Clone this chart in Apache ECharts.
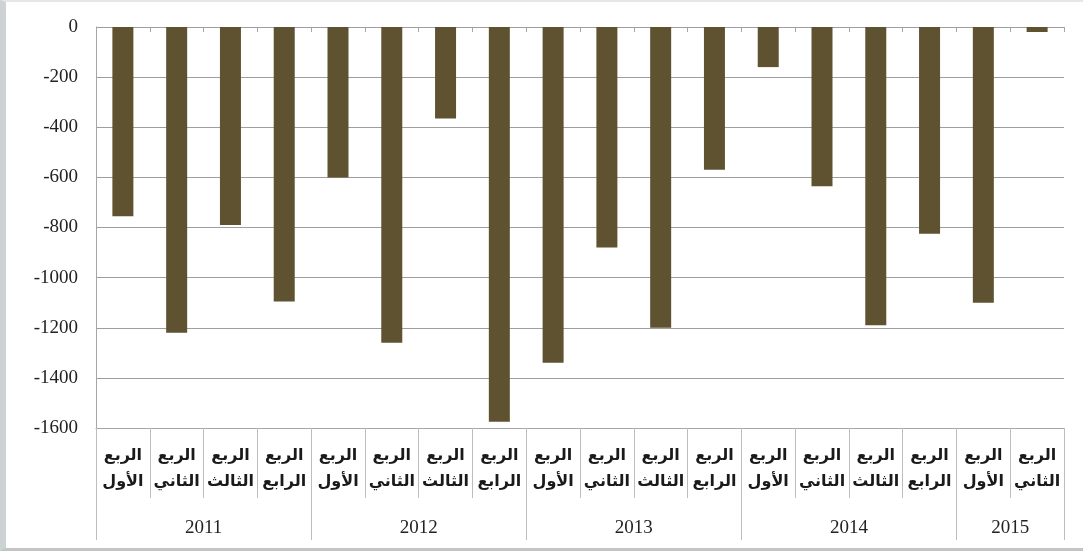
<!DOCTYPE html>
<html>
<head>
<meta charset="utf-8">
<script src="https://cdn.jsdelivr.net/npm/echarts@6/dist/echarts.min.js"></script>
<style>
html,body{margin:0;padding:0;background:#fff;}
#frame{position:absolute;left:0;top:0;width:1083px;height:551px;box-sizing:border-box;border-left:6px solid #cdd2d4;border-top:2px solid #e6e6e6;border-bottom:3px solid #c4c4c4;}
#chart{position:absolute;left:0;top:0;width:1083px;height:551px;}
</style>
</head>
<body>
<div id="frame"></div>
<div id="chart"></div>
<script>
const quarters = ['الأول','الثاني','الثالث','الرابع','الأول','الثاني','الثالث','الرابع','الأول','الثاني','الثالث','الرابع','الأول','الثاني','الثالث','الرابع','الأول','الثاني'];
const quarterPrefix = 'الربع';
const years = ['2011','2012','2013','2014','2015'];
const yearSpans = [4,4,4,4,2];
const values = [-755,-1220,-790,-1095,-600,-1260,-365,-1575,-1340,-880,-1200,-570,-160,-635,-1190,-825,-1100,-20];
const yTicks = {min:-1600, max:0, interval:200};

const categories = quarters.map((q,i)=>i+'|'+q);
const boundaries=[0]; const centers=[];
let acc=0;
yearSpans.forEach(s=>{centers.push(acc+s/2); acc+=s; boundaries.push(acc);});

const chart = echarts.init(document.getElementById('chart'));
const serif = '"Liberation Serif","DejaVu Serif",serif';
const arabic = '"DejaVu Sans",sans-serif';
chart.setOption({
  animation:false,
  grid:{left:96,right:19,top:27,bottom:123},
  xAxis:[{
    type:'category', data:categories, position:'bottom',
    axisLine:{onZero:false,show:true,lineStyle:{color:'#a6a6a6',width:1}},
    axisTick:{show:true,interval:0,length:70,lineStyle:{color:'#bdbdbd'}},
    axisLabel:{interval:0,margin:15,fontFamily:arabic,fontSize:16,fontWeight:'bold',color:'#1a1a1a',lineHeight:26,
      formatter:v=>quarterPrefix+'\n'+v.split('|')[1]}
  },{
    type:'value', min:0, max:quarters.length, position:'bottom',
    axisLine:{show:false,onZero:false},
    splitLine:{show:false},
    axisTick:{show:true,length:112,customValues:boundaries,lineStyle:{color:'#bdbdbd'}},
    axisLabel:{show:true,customValues:centers,margin:91,fontFamily:serif,fontSize:19,color:'#222',
      formatter:v=>{const i=centers.indexOf(v);return i>=0?years[i]:'';}}
  },{
    type:'category', data:categories, position:'top',
    axisLine:{show:false},
    axisTick:{show:true,inside:true,interval:0,length:5,lineStyle:{color:'#a6a6a6'}},
    axisLabel:{show:false}
  }],
  yAxis:{
    type:'value', min:yTicks.min, max:yTicks.max, interval:yTicks.interval,
    axisLine:{show:true,lineStyle:{color:'#a6a6a6'}},
    axisTick:{show:false},
    splitLine:{show:true,lineStyle:{color:'#9e9e9e',width:1}},
    axisLabel:{margin:18,fontFamily:serif,fontSize:19,color:'#222',formatter:v=>String(v)}
  },
  series:[{
    type:'bar', data:values, barWidth:21, xAxisIndex:0,
    itemStyle:{color:'#5e5230'}
  }]
});
</script>
</body>
</html>
